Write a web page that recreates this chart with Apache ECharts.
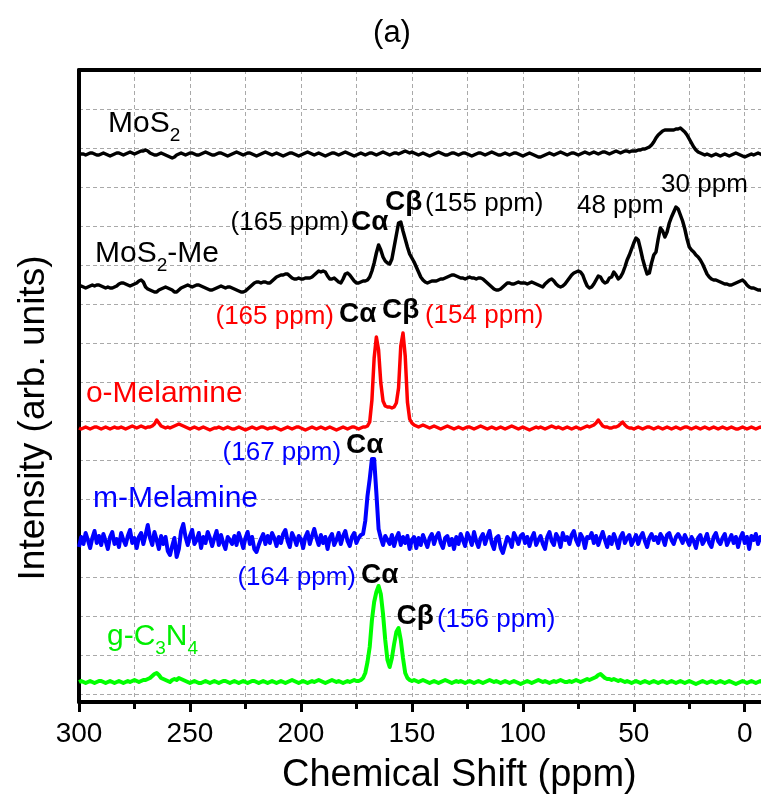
<!DOCTYPE html>
<html><head><meta charset="utf-8">
<script src="https://cdn.jsdelivr.net/npm/echarts/dist/echarts.min.js"></script>
<style>html,body{margin:0;padding:0;background:#fff}#c{width:761px;height:796px}</style>
</head><body><div id="c"></div>
<script>
const FONT = "'Liberation Sans', Arial, sans-serif";

// Chemical shift samples: 300 ppm down to -8 ppm, 1 ppm apart (309 points per spectrum)
const shiftStart = 300, shiftEnd = -8;
const xTickLabels = [300, 250, 200, 150, 100, 50, 0];

// Intensities relative to each spectrum's own baseline (arb. units)
const mos2 = [
1,0,0,-1,0,1,1,0,-1,-1,
0,1,0,-1,-2,-1,0,1,1,0,
-1,0,1,2,1,0,1,2,3,3,
4,3,1,0,-1,-1,0,1,0,-1,
-2,-3,-4,-3,-1,0,1,0,-1,0,
1,1,0,-1,-1,0,1,2,1,0,
-1,-1,0,1,1,0,-1,-2,-1,0,
1,2,1,0,-1,0,1,1,0,-1,
-2,-1,0,1,2,1,0,-1,0,1,
0,-1,-2,-1,0,1,1,0,-1,-2,
-1,0,1,2,1,0,-1,0,1,0,
-1,-2,-1,0,1,1,0,-1,0,1,
2,1,0,-1,-2,-1,0,1,0,-1,
0,1,1,0,-1,0,1,2,1,0,
-1,0,1,1,0,1,2,3,2,1,
2,1,0,-1,0,1,0,-1,-2,-1,
0,1,2,1,0,-1,-1,0,1,1,
0,-1,0,1,1,0,-1,-2,-1,0,
1,1,0,-1,0,1,2,1,0,-1,
-1,0,1,0,-1,0,1,1,0,-1,
-2,-1,0,1,0,-1,-2,-3,-3,-2,
-1,0,1,0,-1,0,1,2,1,0,
-1,0,1,1,0,-1,0,1,2,1,
0,1,2,1,0,1,2,2,1,0,
1,2,3,2,1,2,3,3,2,3,
3,3,4,4,5,5,6,7,9,12,
16,19,21,23,24,24,24,24,24,25,
25,26,24,22,19,15,11,7,4,2,
1,0,-1,0,-1,-2,-1,0,-1,-2,
-1,0,-1,-2,-1,0,1,0,-1,-2,
-3,-2,-1,0,-1,0,1,0,-1];

const mos2Me = [
0,1,0,-1,0,1,2,1,2,2,
1,0,-1,0,-1,-1,0,1,3,4,
4,3,2,1,2,3,4,6,7,5,
0,-2,-3,-4,-5,-5,-3,-2,-1,0,
-1,-2,-3,-5,-5,-3,-1,0,1,2,
1,0,1,2,2,1,0,-1,-2,-3,
-3,-2,-1,0,1,0,-1,0,0,-1,
-2,-3,-4,-5,-5,-4,-2,0,2,4,
5,5,4,5,5,4,4,6,8,10,
11,12,12,13,13,11,9,8,8,9,
8,8,9,9,9,10,12,14,16,15,
16,15,11,8,8,9,7,5,4,8,
13,14,12,9,6,4,4,5,6,6,
7,10,16,24,34,42,37,30,26,24,
23,28,40,52,64,65,56,48,40,33,
29,25,20,15,10,7,5,4,5,6,
6,6,7,8,8,9,10,11,12,12,
11,10,9,9,8,9,10,9,9,8,
9,9,8,6,4,2,0,-2,-3,-3,
-2,0,2,4,4,3,3,4,5,4,
4,4,3,4,5,4,3,2,1,0,
3,5,7,8,6,3,1,0,1,3,
6,9,12,14,15,16,15,12,6,1,
-1,0,3,7,11,10,6,4,5,9,
10,15,12,8,10,14,20,27,32,38,
44,49,47,38,28,20,13,14,24,32,
35,48,59,56,50,55,64,70,75,80,
78,72,66,58,48,40,37,35,32,30,
27,23,18,13,10,8,7,7,6,5,
4,3,3,2,2,3,4,5,6,7,
5,2,0,-1,-1,-2,-3,-3,-4];

const oMelamine = [
0,-1,0,1,0,-1,0,1,1,0,
-1,0,1,0,-1,0,1,0,0,1,
0,-1,0,1,2,1,0,1,2,1,
0,1,1,2,4,8,5,2,1,0,
1,0,1,2,3,4,3,2,1,0,
-1,0,1,0,-1,0,1,0,-1,-2,
-1,0,0,1,0,-1,0,1,0,-1,
-1,0,1,0,-1,-2,-1,0,1,0,
-1,0,1,1,0,-1,0,0,1,0,
-1,-2,-1,0,1,0,-1,0,1,1,
0,-1,-2,-1,0,1,0,-1,0,1,
0,-1,0,1,0,-1,-2,-1,0,1,
0,-1,0,1,1,0,-1,0,1,1,
2,6,28,70,91,78,45,27,22,21,
21,20,21,25,40,82,95,72,26,9,
5,3,2,1,2,3,2,1,0,1,
2,1,0,-1,0,1,2,1,0,-1,
0,1,0,-1,0,1,1,0,-1,0,
1,2,1,0,-1,0,1,0,-1,0,
1,0,-1,0,1,2,1,0,-1,0,
1,0,-1,-2,-1,0,1,0,1,0,
-1,0,1,2,1,0,1,0,-1,0,
1,0,-1,0,1,0,-1,0,1,2,
1,2,3,5,8,5,2,1,1,0,
0,1,1,2,4,6,3,1,0,0,
-1,0,1,0,-1,0,1,1,0,-1,
0,1,0,-1,0,1,0,-1,0,1,
0,-1,0,1,1,0,-1,0,1,0,
-1,0,1,0,-1,0,1,0,-1,0,
1,0,-1,0,1,0,-1,-1,0,1,
0,-1,0,1,0,-1,0,1,0];

const mMelamine = [
-6,4,-3,8,1,-7,3,10,-2,5,
-4,7,0,-8,4,9,-3,2,-6,8,
1,-4,5,11,-2,3,-7,4,8,-3,
6,16,3,-4,9,1,-8,5,-3,4,
-10,-14,-5,3,-16,-8,10,17,4,-4,
5,11,-3,1,8,-7,4,-2,9,3,
-5,3,10,-4,6,-2,-8,4,1,-3,
5,-4,8,1,-7,3,9,-3,4,-8,
-11,-4,2,7,-3,5,-2,8,3,-5,
4,-2,7,11,0,-6,8,3,-4,5,
2,-7,4,9,-3,5,12,3,-4,6,
-2,4,-8,3,7,-4,1,8,-3,5,
10,0,-5,4,8,-2,3,6,7,20,
45,62,82,82,48,12,3,-4,5,1,
-3,6,-5,3,8,-4,4,-2,5,-8,
1,4,-7,3,-4,6,0,-6,3,7,
-3,4,8,-2,-7,3,5,-4,2,-8,
4,-3,7,1,-5,8,3,-4,9,0,
-6,3,7,-3,4,10,-2,-8,3,5,
-7,-12,-4,4,1,-6,8,3,-3,5,
7,-2,4,-5,3,8,-4,1,5,-3,
-8,4,9,0,-4,7,3,-6,8,1,
4,-3,6,10,1,-4,7,3,-7,4,
3,8,-2,5,-4,3,9,1,-6,4,
-3,7,1,-7,4,8,-2,3,6,-4,
1,6,-3,4,8,0,-6,3,7,1,
4,-2,7,3,-4,6,8,1,-3,4,
7,3,-2,6,1,-4,4,0,-7,3,
6,-3,1,7,-2,-6,4,8,0,-3,
3,7,-4,1,6,-2,4,-6,3,8,
-2,4,-8,5,1,7,-3,4,0];

const gC3N4 = [
0,1,0,-1,0,1,0,-1,0,1,
1,0,-1,0,1,0,-1,0,1,0,
-1,0,1,0,1,2,1,0,1,2,
2,3,4,6,8,9,7,4,3,2,
1,0,2,3,2,4,3,2,1,0,
-1,0,1,0,-1,-1,0,1,0,-1,
0,1,0,-1,0,1,1,0,-1,0,
1,0,-1,0,1,0,-1,0,1,1,
0,-1,0,1,0,-1,0,1,0,-1,
0,1,0,-1,0,1,2,1,0,-1,
0,1,0,-1,0,1,0,1,2,1,
0,-1,0,1,2,1,0,1,0,-1,
0,1,0,1,2,1,1,2,4,9,
20,35,62,80,90,96,88,68,42,22,
15,24,38,50,54,42,24,9,4,2,
1,2,1,0,1,2,1,0,-1,0,
1,0,-1,0,1,2,1,0,-1,0,
1,0,1,0,-1,0,1,0,-1,0,
1,0,-1,0,1,2,1,0,1,0,
-1,0,1,0,-1,0,1,0,-1,-2,
-1,0,1,0,-1,0,1,2,1,0,
1,0,-1,0,1,0,1,2,1,0,
0,1,0,1,2,1,0,1,2,3,
2,3,4,5,7,8,6,4,3,3,
2,3,2,1,2,1,0,1,0,-1,
0,1,0,-1,0,1,0,-1,0,1,
0,-1,0,1,0,-1,0,1,0,-1,
0,1,0,-1,0,1,0,-1,-2,-1,
0,1,0,-1,0,1,0,-1,0,1,
0,-1,0,1,0,-1,-2,-1,0,1,
0,-1,0,1,0,-1,0,1,0];

// vertical stacking offsets of the spectra (arb. units)
const offsets = [548, 415, 274, 161, 20];
const seriesNames = ['MoS2', 'MoS2-Me', 'o-Melamine', 'm-Melamine', 'g-C3N4'];
const seriesColors = ['#000000', '#000000', '#ff0000', '#0000ff', '#00ff00'];
const seriesValues = [mos2, mos2Me, oMelamine, mMelamine, gC3N4];

const shifts = [];
for (let s = shiftStart; s >= shiftEnd; s--) shifts.push(s);

const chart = echarts.init(document.getElementById('c'), null, {renderer: 'canvas', width: 761, height: 796});
const gridLine = {type: [4, 3], color: '#a9a9a9', width: 1};
const lineWidths = [3.5, 3.5, 3.5, 4, 4];

const series = seriesValues.map((vals, k) => ({
  type: 'line', name: seriesNames[k], silent: true,
  data: shifts.map((s, i) => [s, offsets[k] + vals[i]]),
  showSymbol: false, symbol: 'none',
  lineStyle: {color: seriesColors[k], width: lineWidths[k], join: 'round'},
  itemStyle: {color: seriesColors[k]}, z: 3
}));

chart.setOption({
  animation: false,
  backgroundColor: '#fff',
  title: {text: '(a)', left: 387, top: 13, textAlign: 'center',
    textStyle: {fontFamily: FONT, fontSize: 31, fontWeight: 'normal', color: '#000'}},
  grid: {left: 79, top: 70, width: 776.7, height: 632, containLabel: false, outerBoundsMode: 'none'},
  xAxis: [{
    type: 'value', inverse: true, min: -50, max: 300, interval: 50, position: 'bottom',
    axisLine: {show: true, onZero: false, lineStyle: {color: '#000', width: 4}},
    axisTick: {show: true, length: 10, lineStyle: {color: '#000', width: 3}},
    minorTick: {show: true, splitNumber: 2, length: 7, lineStyle: {color: '#000', width: 3}},
    splitLine: {show: true, lineStyle: gridLine},
    minorSplitLine: {show: true, lineStyle: gridLine},
    axisLabel: {fontFamily: FONT, fontSize: 28, color: '#000', margin: 18,
      formatter: v => xTickLabels.includes(v) ? String(v) : ''},
    name: 'Chemical Shift (ppm)', nameLocation: 'middle', nameGap: 55,
    nameTextStyle: {fontFamily: FONT, fontSize: 38, color: '#000', padding: [0, 16, 0, 0]}
  }, {
    type: 'value', inverse: true, min: -50, max: 300, position: 'top',
    axisLine: {show: true, onZero: false, lineStyle: {color: '#000', width: 4}},
    axisTick: {show: false}, axisLabel: {show: false}, splitLine: {show: false}
  }],
  yAxis: [{
    type: 'value', min: 0, max: 632, position: 'left',
    axisLine: {show: true, onZero: false, lineStyle: {color: '#000', width: 4}},
    axisTick: {show: false}, axisLabel: {show: false}, splitLine: {show: false},
    name: 'Intensity (arb. units)', nameLocation: 'middle', nameGap: 27,
    nameTextStyle: {fontFamily: FONT, fontSize: 37, color: '#000', padding: [0, 64, 0, 0]}
  }, {
    type: 'value', inverse: true, min: 0, max: 632, interval: 39, position: 'right',
    axisLine: {show: false}, axisTick: {show: false}, axisLabel: {show: false},
    splitLine: {show: true, lineStyle: gridLine}
  }],
  series: series
});

function at(p, v) { return chart.convertToPixel({xAxisIndex: 0, yAxisIndex: 0}, [p, v]); }
function txt(p, v, text, fill, size, bold, align) {
  const [x, y] = at(p, v);
  return {type: 'text', x, y, z: 100, silent: true,
    style: {text, fill, font: (bold ? 'bold ' : '') + size + 'px ' + FONT,
      align: align || 'left', verticalAlign: 'middle'}};
}
function sub(p, v, text, fill) {
  const [x, y] = at(p, v);
  return {type: 'text', x, y, z: 100, silent: true,
    style: {text, fill, font: '30px ' + FONT, align: 'left', verticalAlign: 'middle',
      rich: {
        n: {fontSize: 30, fontFamily: FONT, fill, lineHeight: 30},
        s: {fontSize: 19, fontFamily: FONT, fill, lineHeight: 19, padding: [24, 0, 0, 0]}
      }}};
}
const RED = '#ff0000', BLUE = '#0000ff', BLK = '#000000', GRN = '#00ee00';
chart.setOption({graphic: [
  sub(286.9, 578, '{n|MoS}{s|2}', BLK),
  sub(292.8, 448, '{n|MoS}{s|2}{n|-Me}', BLK),
  txt(178.3, 479, '(165 ppm)', BLK, 26, false, 'right'),
  txt(177.4, 480, 'Cα', BLK, 28, true),
  txt(162.1, 500, 'Cβ', BLK, 28, true),
  txt(144.1, 498, '(155 ppm)', BLK, 26),
  txt(75.6, 496, '48 ppm', BLK, 26),
  txt(37.7, 517, '30 ppm', BLK, 26),
  txt(185.1, 385, '(165 ppm)', RED, 26, false, 'right'),
  txt(182.8, 388, 'Cα', BLK, 28, true),
  txt(163.5, 392, 'Cβ', BLK, 28, true),
  txt(144.1, 386, '(154 ppm)', RED, 26),
  txt(181.9, 249, '(167 ppm)', BLUE, 26, false, 'right'),
  txt(179.7, 257, 'Cα', BLK, 28, true),
  txt(175.2, 124, '(164 ppm)', BLUE, 26, false, 'right'),
  txt(172.9, 127, 'Cα', BLK, 28, true),
  txt(156.9, 86, 'Cβ', BLK, 28, true),
  txt(138.7, 82, '(156 ppm)', BLUE, 26),
  txt(296.9, 308, 'o-Melamine', RED, 30),
  txt(293.7, 203, 'm-Melamine', BLUE, 30),
  sub(287.4, 65, '{n|g-C}{s|3}{n|N}{s|4}', GRN)
]});
</script></body></html>
